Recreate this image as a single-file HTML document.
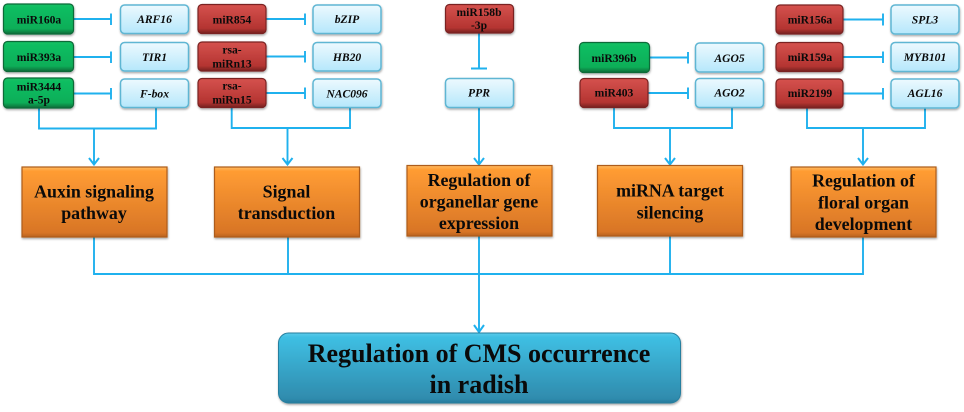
<!DOCTYPE html>
<html><head><meta charset="utf-8"><style>
html,body{margin:0;padding:0;background:#fff;width:964px;height:412px;overflow:hidden}
svg{display:block;filter:blur(.35px)}
text{font-family:"Liberation Serif",serif;font-weight:bold;fill:#0a0a0a;text-anchor:middle}
.s{font-size:11.6px}
.i{font-size:11.6px;font-style:italic}
.o{font-size:17.9px}
.m{font-size:26px}
.g rect{fill:url(#gg);stroke:#0a6a38;stroke-width:1.2}
.r rect{fill:url(#gr);stroke:#7a2422;stroke-width:1.2}
.b rect{fill:url(#gb);stroke:#5fb6d3;stroke-width:1.5}
.y rect{fill:url(#gy);stroke:#ad5c1c;stroke-width:1.2}
.l{fill:none;stroke:#1fb1ee;stroke-width:1.9}
</style></head><body>
<svg width="964" height="412" viewBox="0 0 964 412" xmlns="http://www.w3.org/2000/svg">
<defs>
<linearGradient id="gg" x1="0" y1="0" x2="0" y2="1"><stop offset="0" stop-color="#12c063"/><stop offset=".82" stop-color="#0cae58"/><stop offset="1" stop-color="#066a37"/></linearGradient>
<linearGradient id="gr" x1="0" y1="0" x2="0" y2="1"><stop offset="0" stop-color="#d5524e"/><stop offset=".82" stop-color="#b43431"/><stop offset="1" stop-color="#752220"/></linearGradient>
<linearGradient id="gb" x1="0" y1="0" x2="0" y2="1"><stop offset="0" stop-color="#edf9fe"/><stop offset="1" stop-color="#b5e7fb"/></linearGradient>
<linearGradient id="gy" x1="0" y1="0" x2="0" y2="1"><stop offset="0" stop-color="#ffbb60"/><stop offset=".06" stop-color="#ff9c33"/><stop offset=".94" stop-color="#d87526"/><stop offset="1" stop-color="#b8621f"/></linearGradient>
<linearGradient id="gm" x1="0" y1="0" x2="0" y2="1"><stop offset="0" stop-color="#5ccbea"/><stop offset=".06" stop-color="#3fbfe3"/><stop offset=".94" stop-color="#2f8bad"/><stop offset="1" stop-color="#26789a"/></linearGradient>
<filter id="sh" x="-5%" y="-10%" width="110%" height="125%"><feDropShadow dx="0.5" dy="1.4" stdDeviation="1.1" flood-color="#000" flood-opacity=".35"/></filter>
</defs>

<!-- connectors -->
<g class="l">
<path d="M74 19H111M111 13.5V25M74 57H111M111 51.5V63M74 93.5H111M111 88V99.5"/>
<path d="M266 19H305M305 13.5V25M266 56.5H305M305 51V62.5M266 93H305M305 87.5V99"/>
<path d="M479 33V68M471 68.5H487M479 108V165"/>
<path d="M650 57.5H688M688 52V63.5M648 93H688M688 87.5V99"/>
<path d="M843 19.5H883M883 13.5V25.5M843 57H883M883 51.5V63M843 93.5H883M883 88V99.5"/>
<path d="M39 108V128.5H156V108M94 128.5V164"/>
<path d="M231.7 108V128H350V108M287.5 128V164"/>
<path d="M614 108V128H732V108M670 128V164"/>
<path d="M807 108V128H925V108M863 128V164"/>
<path d="M94 237V274H863V237M288 237V274M670 236V274M479 236V332"/>
<path d="M89 158L94 164.5L99 158M282.5 158L287.5 164.5L292.5 158M474 158L479 164.5L484 158M665 158L670 164.5L675 158M858 158L863 164.5L868 158M474 325L479 332L484 325" stroke-width="2"/>
</g>

<!-- green -->
<g class="g" filter="url(#sh)">
<rect x="3.5" y="4" width="70" height="30" rx="4"/>
<rect x="3.5" y="41.5" width="70" height="30" rx="4"/>
<rect x="3.5" y="78" width="70" height="30" rx="4"/>
<rect x="579.5" y="42.5" width="70" height="30" rx="4"/>
</g>
<!-- red -->
<g class="r" filter="url(#sh)">
<rect x="198" y="4.5" width="68" height="29" rx="4"/>
<rect x="198" y="42" width="68" height="29" rx="4"/>
<rect x="198" y="78.5" width="68" height="29" rx="4"/>
<rect x="445.5" y="4.5" width="68" height="28.5" rx="4"/>
<rect x="580" y="78.5" width="68" height="29" rx="4"/>
<rect x="776" y="5" width="67" height="29" rx="4"/>
<rect x="776" y="42.5" width="67" height="29" rx="4"/>
<rect x="776" y="79" width="67" height="29" rx="4"/>
</g>
<!-- blue -->
<g class="b" filter="url(#sh)">
<rect x="120.5" y="5" width="68" height="28.5" rx="4"/>
<rect x="120.5" y="42.5" width="68" height="28.5" rx="4"/>
<rect x="120.5" y="79" width="68" height="28.5" rx="4"/>
<rect x="313" y="5" width="68" height="28.5" rx="4"/>
<rect x="313" y="42.5" width="68" height="28.5" rx="4"/>
<rect x="313" y="79" width="68" height="28.5" rx="4"/>
<rect x="445.5" y="78.5" width="68" height="29" rx="4"/>
<rect x="695.5" y="43" width="68" height="29" rx="4"/>
<rect x="695.5" y="78.5" width="68" height="29" rx="4"/>
<rect x="891" y="5" width="68" height="29" rx="4"/>
<rect x="891" y="42.5" width="68" height="29" rx="4"/>
<rect x="891" y="79" width="68" height="29" rx="4"/>
</g>
<!-- orange -->
<g class="y" filter="url(#sh)">
<rect x="22" y="167" width="145" height="70"/>
<rect x="214.5" y="167" width="145" height="70"/>
<rect x="407" y="165.5" width="145" height="70.5"/>
<rect x="597.5" y="165.5" width="145" height="70.5"/>
<rect x="791" y="167" width="145" height="70"/>
</g>
<!-- main -->
<rect x="278.5" y="333" width="402" height="70" rx="10" fill="url(#gm)" stroke="#277f9f" filter="url(#sh)"/>

<!-- labels -->
<g class="s">
<text x="39" y="23.3">miR160a</text>
<text x="39" y="61">miR393a</text>
<text x="39" y="90.7">miR3444</text>
<text x="39" y="103.5">a-5p</text>
<text x="232" y="23.3">miR854</text>
<text x="232" y="53.5">rsa-</text>
<text x="232" y="67.5">miRn13</text>
<text x="232" y="89.5">rsa-</text>
<text x="232" y="103.5">miRn15</text>
<text x="479" y="16">miR158b</text>
<text x="479" y="29">-3p</text>
<text x="614" y="62">miR396b</text>
<text x="614" y="96.7">miR403</text>
<text x="810" y="23.3">miR156a</text>
<text x="810" y="61">miR159a</text>
<text x="810" y="97">miR2199</text>
</g>
<g class="i">
<text x="154.5" y="23">ARF16</text>
<text x="154.5" y="61">TIR1</text>
<text x="154.5" y="97.5">F-box</text>
<text x="347" y="23">bZIP</text>
<text x="347" y="61">HB20</text>
<text x="347" y="97.5">NAC096</text>
<text x="479" y="96.7">PPR</text>
<text x="729.5" y="62">AGO5</text>
<text x="729.5" y="96.7">AGO2</text>
<text x="925" y="23.3">SPL3</text>
<text x="925" y="61">MYB101</text>
<text x="925" y="97">AGL16</text>
</g>
<g class="o">
<text x="94" y="197.3">Auxin signaling</text>
<text x="94" y="219">pathway</text>
<text x="286.5" y="197.3">Signal</text>
<text x="286.5" y="219">transduction</text>
<text x="479" y="186">Regulation of</text>
<text x="479" y="207.7">organellar gene</text>
<text x="479" y="229">expression</text>
<text x="670" y="196.7">miRNA target</text>
<text x="670" y="218.7">silencing</text>
<text x="863.5" y="186.7">Regulation of</text>
<text x="863.5" y="208.3">floral organ</text>
<text x="863.5" y="230">development</text>
</g>
<g class="m">
<text x="479" y="362">Regulation of CMS occurrence</text>
<text x="479" y="393">in radish</text>
</g>
</svg>
</body></html>
